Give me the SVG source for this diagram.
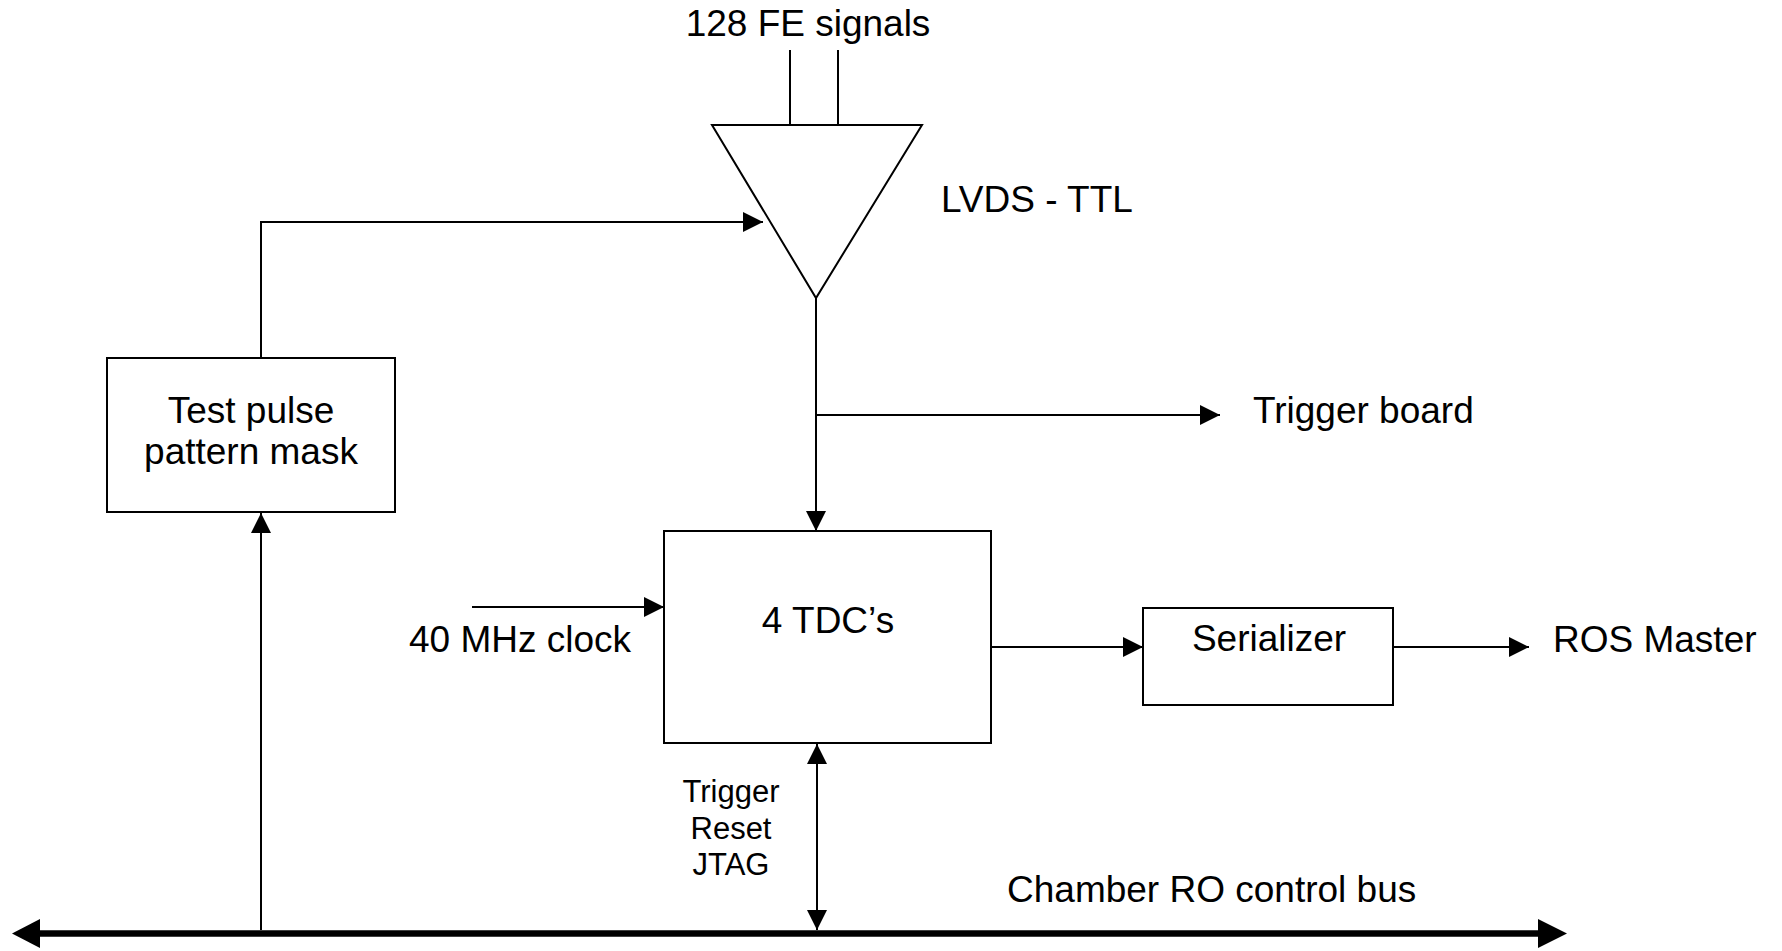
<svg xmlns="http://www.w3.org/2000/svg" width="1782" height="951" viewBox="0 0 1782 951">
  <style>
    .box { fill: #ffffff; stroke: #000000; stroke-width: 2; }
    .ln { fill: none; stroke: #000000; stroke-width: 2; }
    .bus { fill: none; stroke: #000000; stroke-width: 6.5; }
    .t { font-family: "Liberation Sans", Arial, sans-serif; font-size: 37px; fill: #000000; }
    .ts { font-family: "Liberation Sans", Arial, sans-serif; font-size: 31px; fill: #000000; }
    .c { text-anchor: middle; }
  </style>
  <defs>
    <marker id="arr" markerUnits="userSpaceOnUse" markerWidth="20" markerHeight="20" refX="20" refY="10" orient="auto-start-reverse" viewBox="0 0 20 20">
      <path d="M0,0 L20,10 L0,20 z" fill="#000000"/>
    </marker>
  </defs>
  <rect width="1782" height="951" fill="#ffffff"/>

  <g id="connectors">
    <line class="ln" x1="790" y1="50" x2="790" y2="125"/>
    <line class="ln" x1="838" y1="50" x2="838" y2="125"/>
    <path class="ln" d="M261,358 V222 H763" marker-end="url(#arr)"/>
    <path class="ln" d="M816,298 V531" marker-end="url(#arr)"/>
    <path class="ln" d="M816,415 H1220" marker-end="url(#arr)"/>
    <path class="ln" d="M472,607 H664" marker-end="url(#arr)"/>
    <path class="ln" d="M991,647 H1143" marker-end="url(#arr)"/>
    <path class="ln" d="M1393,647 H1529" marker-end="url(#arr)"/>
    <path class="ln" d="M261,930 V513" marker-end="url(#arr)"/>
    <path class="ln" d="M817,930 V744" marker-start="url(#arr)" marker-end="url(#arr)"/>
    <g id="bus">
      <line class="bus" x1="38" y1="933.5" x2="1540" y2="933.5"/>
      <polygon points="12,933.5 40,919 40,948" fill="#000000"/>
      <polygon points="1567,933.5 1538,919 1538,948" fill="#000000"/>
    </g>
  </g>

  <g id="fe-signals">
    <text class="t c" x="808" y="36">128 FE signals</text>
  </g>
  <g id="lvds-ttl">
    <polygon class="box" points="712,125 922,125 816,298"/>
    <text class="t" x="941" y="212">LVDS - TTL</text>
  </g>
  <g id="test-pulse">
    <rect class="box" x="107" y="358" width="288" height="154"/>
    <text class="t c" x="251" y="423">Test pulse</text>
    <text class="t c" x="251" y="464">pattern mask</text>
  </g>
  <g id="trigger-board">
    <text class="t" x="1253" y="423">Trigger board</text>
  </g>
  <g id="tdc">
    <rect class="box" x="664" y="531" width="327" height="212"/>
    <text class="t c" x="828" y="633">4 TDC’s</text>
  </g>
  <g id="clock">
    <text class="t" x="409" y="652">40 MHz clock</text>
  </g>
  <g id="serializer">
    <rect class="box" x="1143" y="608" width="250" height="97"/>
    <text class="t c" x="1269" y="651">Serializer</text>
  </g>
  <g id="ros-master">
    <text class="t" x="1553" y="652">ROS Master</text>
  </g>
  <g id="control-signals">
    <text class="ts c" x="731" y="802">Trigger</text>
    <text class="ts c" x="731" y="839">Reset</text>
    <text class="ts c" x="731" y="875">JTAG</text>
  </g>
  <g id="bus-label">
    <text class="t" x="1007" y="902">Chamber RO control bus</text>
  </g>
</svg>
